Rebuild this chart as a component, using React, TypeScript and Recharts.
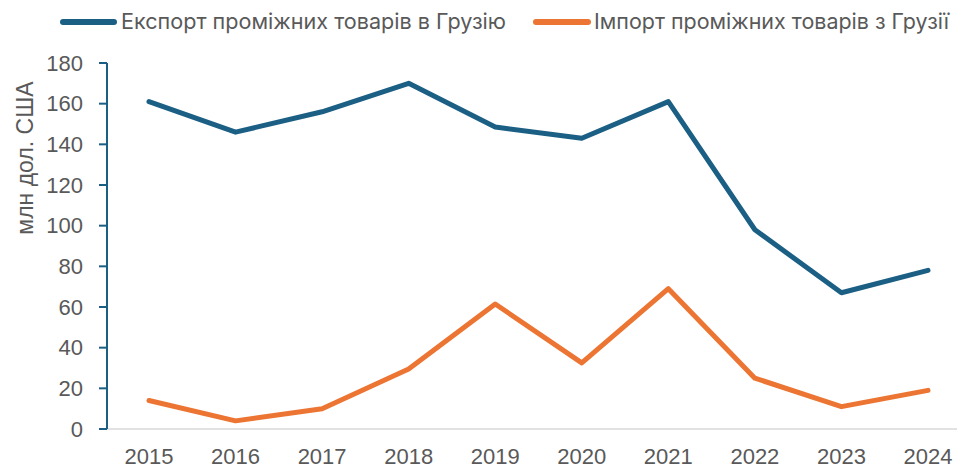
import React from 'react';
import { LineChart, Line, XAxis, YAxis, Legend } from 'recharts';

const years = ['2015', '2016', '2017', '2018', '2019', '2020', '2021', '2022', '2023', '2024'];
const exportValues = [161, 146, 156, 170, 148.5, 143, 161, 98, 67, 78];
const importValues = [14, 4, 10, 29.5, 61.5, 32.5, 69, 25, 11, 19];
const yTicks = [0, 20, 40, 60, 80, 100, 120, 140, 160, 180];
const exportName = 'Експорт проміжних товарів в Грузію';
const importName = 'Імпорт проміжних товарів з Грузії';
const yTitle = 'млн дол. США';

const BLUE = '#1b5f84';
const ORANGE = '#ec7533';
const TEXT = '#595959';
const FONT = "'Liberation Sans', Arial, sans-serif";

const data = years.map((y, i) => ({ year: y, exp: exportValues[i], imp: importValues[i] }));

const renderLegend = () => (
  <svg width={957} height={44} style={{ display: 'block', overflow: 'visible' }}>
    <line x1={63} y1={22} x2={114} y2={22} stroke={BLUE} strokeWidth={6} strokeLinecap="round" />
    <text x={121} y={29} fontSize={21.5} fill={TEXT} fontFamily="Inter, Roboto, sans-serif" textLength={385} lengthAdjust="spacingAndGlyphs">{exportName}</text>
    <line x1={536} y1={22} x2={588} y2={22} stroke={ORANGE} strokeWidth={6} strokeLinecap="round" />
    <text x={594} y={29} fontSize={21.5} fill={TEXT} fontFamily="Inter, Roboto, sans-serif" textLength={355} lengthAdjust="spacingAndGlyphs">{importName}</text>
  </svg>
);

const YTitle = (props: any) => {
  const vb = props.viewBox || { x: 0, y: 0 };
  const cx = vb.x + 25;
  const cy = vb.y + 95;
  return (
    <text x={cx} y={cy} transform={`rotate(-90, ${cx}, ${cy})`} textAnchor="middle" dominantBaseline="central" fontSize={23} fill={TEXT} fontFamily={FONT}>
      {yTitle}
    </text>
  );
};

export default function App() {
  return (
    <div style={{ position: 'absolute', left: 0, top: 0, background: '#fff' }}>
      <LineChart width={957} height={469} data={data} margin={{ top: 19, right: 0, bottom: 10, left: 0 }}>
        <Legend verticalAlign="top" align="left" height={44} wrapperStyle={{ top: 0, left: 0 }} content={renderLegend} />
        <XAxis
          dataKey="year"
          padding={{ left: 42, right: 29 }}
          axisLine={{ stroke: '#d9d9d9', strokeWidth: 1.5 }}
          tickLine={false}
          tickSize={0}
          tickMargin={19}
          tick={{ fill: TEXT, fontSize: 22, fontFamily: FONT }}
          interval={0}
        />
        <YAxis
          width={107}
          domain={[0, 180]}
          ticks={yTicks}
          interval={0}
          axisLine={{ stroke: BLUE, strokeWidth: 2 }}
          tickLine={{ stroke: BLUE, strokeWidth: 2 }}
          tickSize={8}
          tickMargin={16}
          tick={{ fill: TEXT, fontSize: 22, fontFamily: FONT }}
          label={<YTitle />}
        />
        <Line type="linear" dataKey="exp" name={exportName} stroke={BLUE} strokeWidth={5} dot={false} strokeLinejoin="round" strokeLinecap="round" isAnimationActive={false} />
        <Line type="linear" dataKey="imp" name={importName} stroke={ORANGE} strokeWidth={5} dot={false} strokeLinejoin="round" strokeLinecap="round" isAnimationActive={false} />
      </LineChart>
    </div>
  );
}
